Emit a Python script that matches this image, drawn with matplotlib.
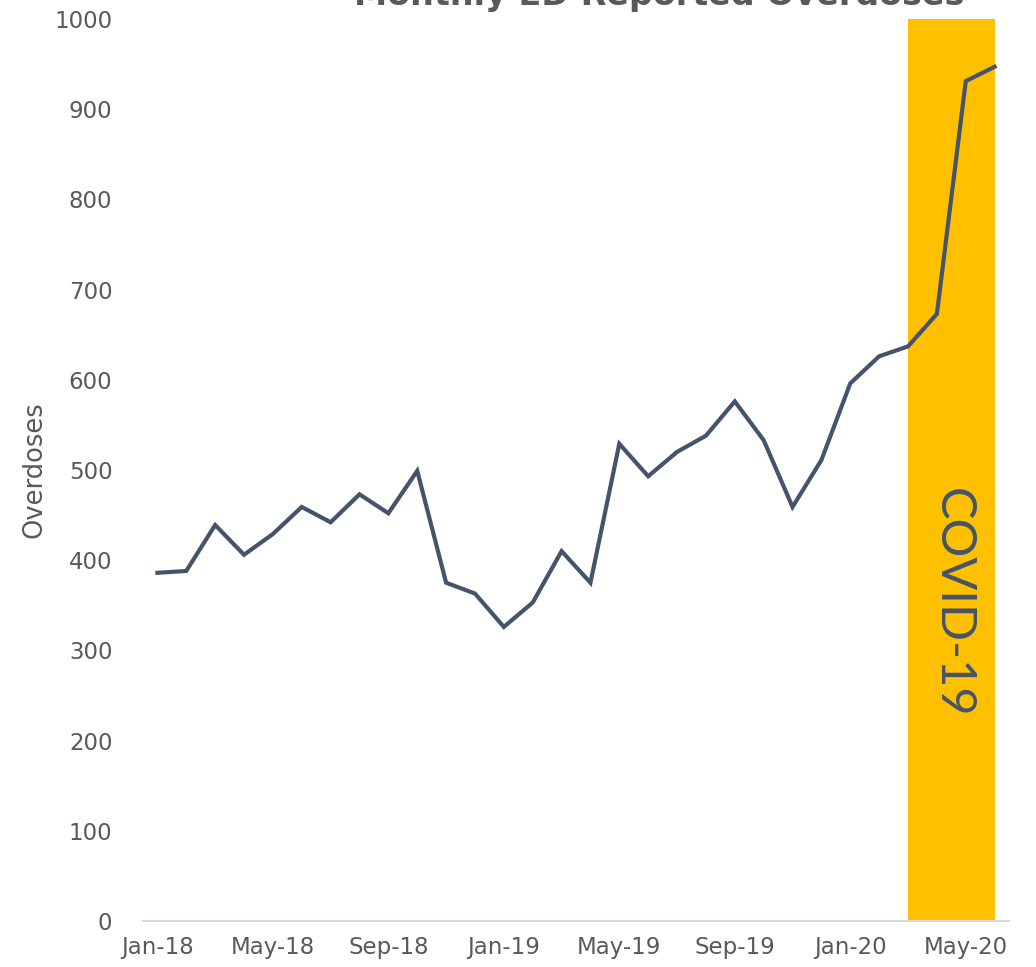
import matplotlib.pyplot as plt

months = ["Jan-18", "Feb-18", "Mar-18", "Apr-18", "May-18", "Jun-18", "Jul-18", "Aug-18",
          "Sep-18", "Oct-18", "Nov-18", "Dec-18", "Jan-19", "Feb-19", "Mar-19", "Apr-19",
          "May-19", "Jun-19", "Jul-19", "Aug-19", "Sep-19", "Oct-19", "Nov-19", "Dec-19",
          "Jan-20", "Feb-20", "Mar-20", "Apr-20", "May-20", "Jun-20"]
overdoses = [386, 388, 439, 406, 429, 459, 442, 473, 452, 499, 375, 363, 326, 353, 410, 375,
             529, 493, 520, 538, 576, 533, 459, 511, 596, 626, 637, 673, 931, 947]
covid_start = "Mar-20"
covid_end = "Jun-20"

plt.rcParams['font.family'] = ['DejaVu Sans']
grey = "#595959"
slate = "#44546A"

fig = plt.figure(figsize=(10.36, 9.67), dpi=100)
ax = fig.add_axes([0.138, 0.0476, 0.836, 0.9328])

x = list(range(len(months)))

# covid shading
ax.axvspan(months.index(covid_start), months.index(covid_end), color="#FFC000", lw=0, zorder=1)
ax.text((months.index(covid_start) + months.index(covid_end)) / 2 + 0.05, 353, "COVID-19",
        rotation=-90, ha="center", va="center", fontsize=35, color=slate, zorder=2,
        family="Lato")

ax.plot(x, overdoses, color=slate, lw=3, zorder=3, solid_joinstyle="miter")

ax.set_xlim(-0.5, len(months) - 0.5)
ax.set_ylim(0, 1000)
ax.set_yticks(range(0, 1001, 100))
ax.set_xticks(x[::4])
ax.set_xticklabels(months[::4])

for s in ["top", "right", "left"]:
    ax.spines[s].set_visible(False)
ax.spines["bottom"].set_color("#D9D9D9")
ax.spines["bottom"].set_linewidth(1.5)
ax.tick_params(axis="both", length=0, labelsize=16.5, labelcolor=grey)
ax.tick_params(axis="y", pad=22)
ax.tick_params(axis="x", pad=11)

ax.set_ylabel("Overdoses", fontsize=18.5, color=grey, labelpad=5)
fig.text(0.636, 0.995, "Monthly ED Reported Overdoses", ha="center", va="baseline",
         fontsize=24, color=grey, fontweight="bold")

plt.savefig("out.png", dpi=100)
